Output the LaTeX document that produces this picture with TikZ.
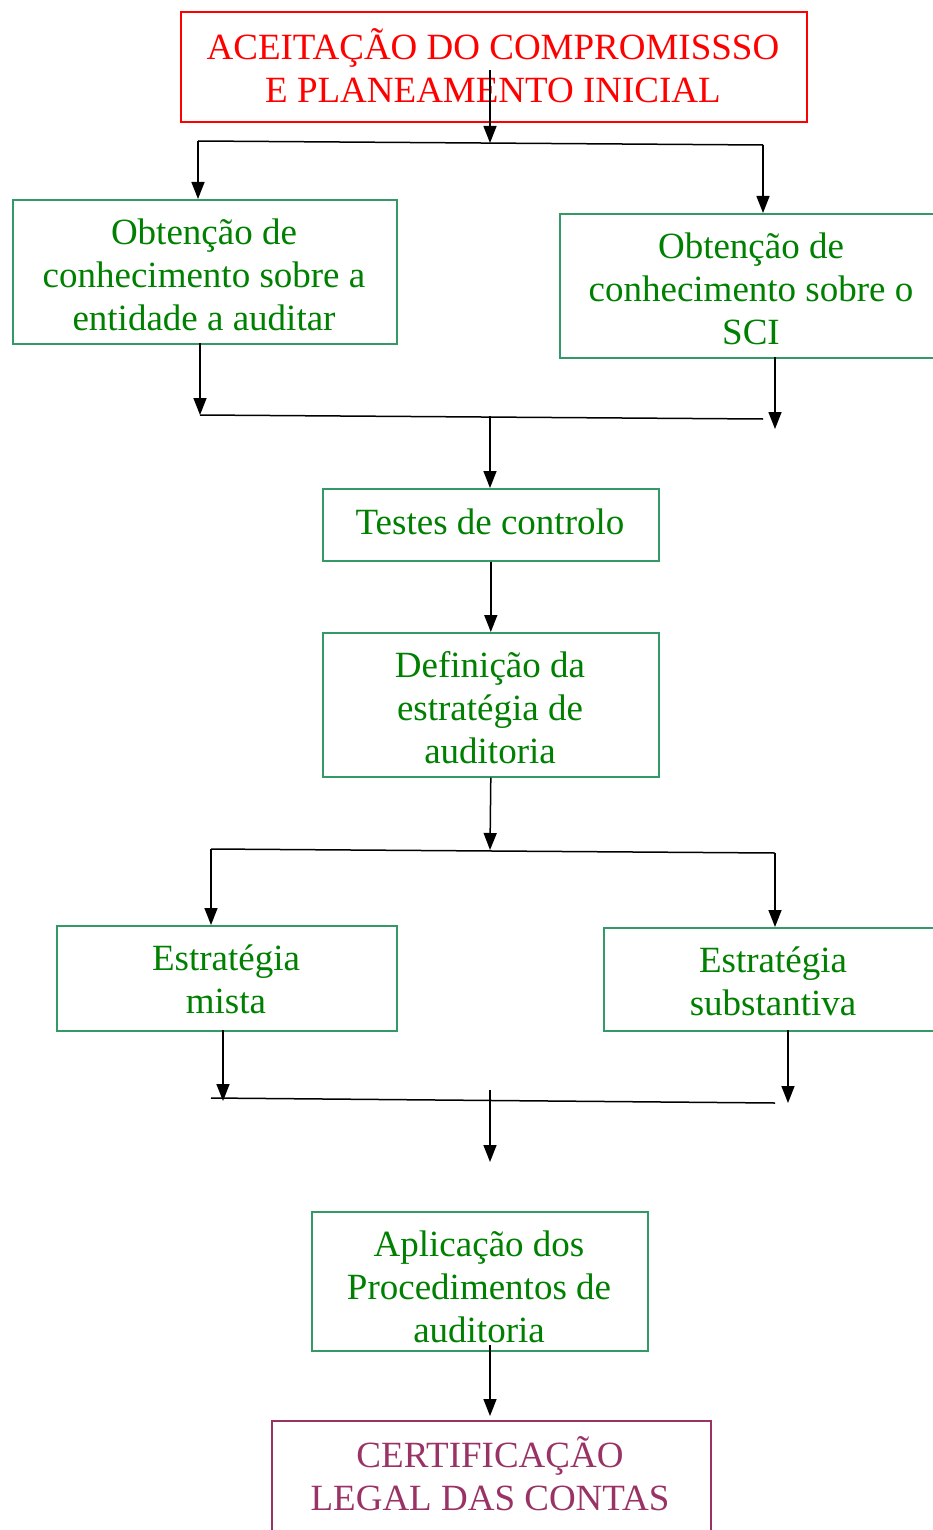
\documentclass[tikz,border=0pt]{standalone}
\usepackage{fontspec}
\setmainfont{Liberation Serif}
\usetikzlibrary{arrows.meta}
\definecolor{txtgreen}{HTML}{008000}
\definecolor{boxgreen}{HTML}{339966}
\definecolor{topred}{HTML}{FF0000}
\definecolor{certpurple}{HTML}{993366}
\begin{document}
\begin{tikzpicture}[x=1pt,y=-1pt,
  frame/.style={draw=boxgreen, line width=1.6pt, inner sep=0pt, anchor=north west},
  label/.style={align=center, inner sep=0pt, font=\fontsize{37}{43}\selectfont, text=txtgreen},
  ln/.style={draw=black, line width=1.5pt},
  arr/.style={ln, -{Triangle[width=13pt,length=17pt]}}]
\useasboundingbox (0,0) rectangle (933,1530);

% boxes
\node[frame, draw=topred, minimum width=626pt, minimum height=110pt] (top) at (180,11) {};
\node[frame, minimum width=384pt, minimum height=144pt] (boxA) at (12,199) {};
\node[frame, minimum width=381pt, minimum height=144pt] (boxB) at (559,213) {};
\node[frame, minimum width=336pt, minimum height=72pt] (testes) at (322,488) {};
\node[frame, minimum width=336pt, minimum height=144pt] (def) at (322,632) {};
\node[frame, minimum width=340pt, minimum height=105pt] (mista) at (56,925) {};
\node[frame, minimum width=337pt, minimum height=103pt] (subst) at (603,927) {};
\node[frame, minimum width=336pt, minimum height=139pt] (apl) at (311,1211) {};
\node[frame, draw=certpurple, minimum width=439pt, minimum height=130pt] (cert) at (271,1420) {};

% texts
\node[label, text=topred] (tTop) at (493,66) {ACEITAÇÃO DO COMPROMISSSO\\E PLANEAMENTO INICIAL};
\node[label] (tA) at (204,275) {Obtenção de\\conhecimento sobre a\\entidade a auditar};
\node[label] (tB) at (751,289) {Obtenção de\\conhecimento sobre o\\SCI};
\node[label] (tT) at (490,522) {Testes de controlo};
\node[label] (tD) at (490,708) {Definição da\\estratégia de\\auditoria};
\node[label] (tM) at (226,979) {Estratégia\\mista};
\node[label] (tS) at (773,981) {Estratégia\\substantiva};
\node[label] (tP) at (479,1287) {Aplicação dos\\Procedimentos de\\auditoria};
\node[label, text=certpurple] (tC) at (490,1474) {CERTIFICAÇÃO\\LEGAL DAS CONTAS};

% junction coordinates
\coordinate (s0) at (490,70);
\coordinate (j1L) at (198,141);
\coordinate (j1M) at (490,143);
\coordinate (j1R) at (763,145);

\coordinate (sA) at (200,343);
\coordinate (eA) at (200,415);
\coordinate (sB) at (775,357);
\coordinate (eB) at (775,429);
\coordinate (j2L) at (200,415);
\coordinate (j2R) at (763,419);
\coordinate (j2M) at (490,416);

\coordinate (j3L) at (211,849);
\coordinate (j3M) at (490,850);
\coordinate (j3R) at (775,853);

\coordinate (sM) at (223,1030);
\coordinate (eM) at (223,1101);
\coordinate (sS) at (788,1030);
\coordinate (eS) at (788,1103);
\coordinate (j4L) at (211,1098);
\coordinate (j4R) at (775,1103);
\coordinate (j4M) at (490,1090);
\coordinate (e4) at (490,1162);

\coordinate (sP) at (490,1345);
\coordinate (eC) at (490,1416);

% connectors
\draw[arr] (s0) -- (j1M);
\draw[ln] (j1L) -- (j1R);
\draw[arr] (j1L) -- (j1L |- boxA.north);
\draw[arr] (j1R) -- (j1R |- boxB.north);

\draw[arr] (sA) -- (eA);
\draw[arr] (sB) -- (eB);
\draw[ln] (j2L) -- (j2R);
\draw[arr] (j2M) -- (j2M |- testes.north);

\draw[arr] (testes.south) -- (def.north);

\draw[arr] (def.south) -- (j3M);
\draw[ln] (j3L) -- (j3R);
\draw[arr] (j3L) -- (j3L |- mista.north);
\draw[arr] (j3R) -- (j3R |- subst.north);

\draw[arr] (sM) -- (eM);
\draw[arr] (sS) -- (eS);
\draw[ln] (j4L) -- (j4R);
\draw[arr] (j4M) -- (e4);

\draw[arr] (sP) -- (eC);
\end{tikzpicture}
\end{document}
